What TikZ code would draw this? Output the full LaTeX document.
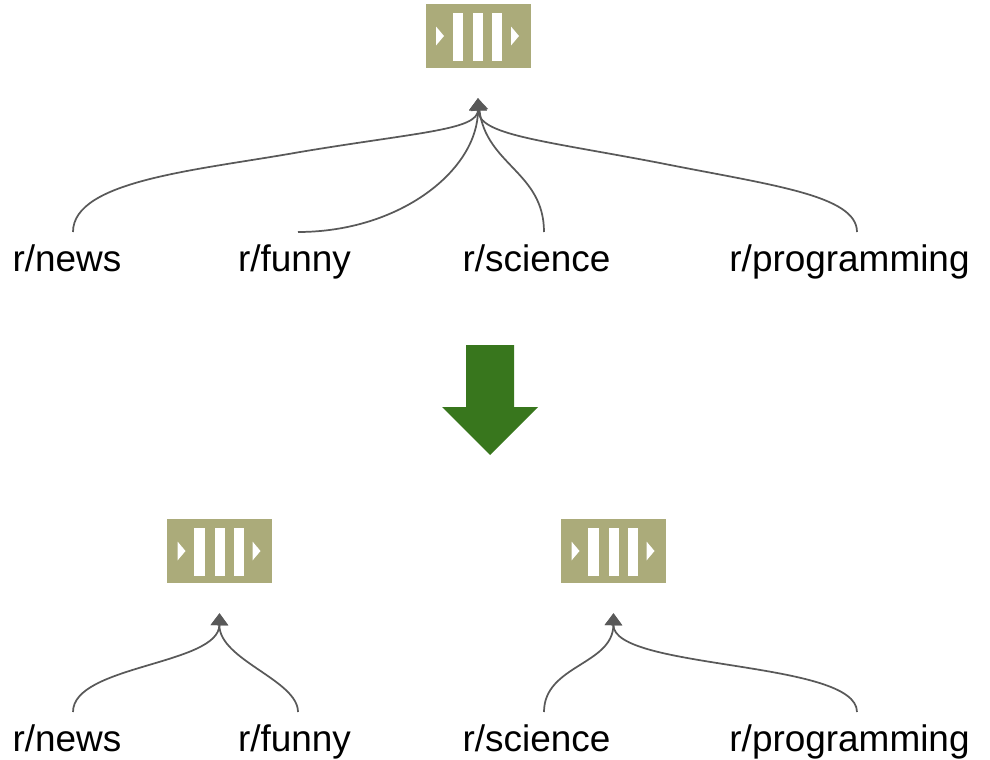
\documentclass[tikz,border=0pt]{standalone}
\usepackage{fontspec}
\setmainfont{Liberation Sans}
\usetikzlibrary{positioning,arrows.meta,calc}
\definecolor{queueolive}{HTML}{ABAB7A}
\definecolor{linegrey}{HTML}{595959}
\definecolor{arrowgreen}{HTML}{38761D}
\begin{document}
\begin{tikzpicture}[
                x=0.75pt, y=-0.75pt,
                queuenode/.style={rectangle, fill=queueolive, minimum width=78.75pt, minimum height=48pt, inner sep=0pt},
                subnode/.style={anchor=base, font=\fontsize{27.7pt}{30pt}\selectfont, inner sep=0pt},
                curveline/.style={draw=linegrey, line width=1.3pt, -{Triangle[width=13pt,length=9pt]}},
                queueicon/.pic={
                    \node[queuenode] (-box) at (0,0) {};
                    \fill[white] (-25.5,-23.5) rectangle (-15,24.5);
                    \fill[white] (-5,-23.5) rectangle (5,24.5);
                    \fill[white] (14,-23.5) rectangle (24,24.5);
                    \fill[white] (-42,-9.5) -- (-34,0) -- (-42,9.5) -- cycle;
                    \fill[white] (33,-9.5) -- (41,0) -- (33,9.5) -- cycle;
                },
            ]
            \useasboundingbox (0,0) rectangle (990,760);

            %Queues
            \pic (top)   at (478,36)  {queueicon};
            \pic (left)  at (219.5,551) {queueicon};
            \pic (right) at (613.5,551) {queueicon};
            \coordinate[below=22.5pt of top-box]   (toptip);
            \coordinate[below=22.5pt of left-box]  (lefttip);
            \coordinate[below=22.5pt of right-box] (righttip);

            %Labels
            \node[subnode] (news)        at (67,271)    {r/news};
            \node[subnode] (funny)       at (294.5,271) {r/funny};
            \node[subnode] (science)     at (536.5,271) {r/science};
            \node[subnode] (programming) at (849.5,271) {r/programming};
            \node[subnode] (lnews)        at (67,751)    {r/news};
            \node[subnode] (lfunny)       at (294.5,751) {r/funny};
            \node[subnode] (lscience)     at (536.5,751) {r/science};
            \node[subnode] (lprogramming) at (849.5,751) {r/programming};

            %Line starts
            \coordinate (newsfoot)         at (73,232);
            \coordinate (funnyfoot)        at (298,232);
            \coordinate (sciencefoot)      at (544,232);
            \coordinate (programmingfoot)  at (857,232);
            \coordinate (lnewsfoot)        at (73,712);
            \coordinate (lfunnyfoot)       at (298,712);
            \coordinate (lsciencefoot)     at (544,712);
            \coordinate (lprogrammingfoot) at (857,712);

            %Lines
            \draw[curveline] (newsfoot) .. controls (73,180) and (200,170) .. (300,152) .. controls (420,132) and (478,130) .. (toptip);
            \draw[curveline] (funnyfoot) .. controls (400,232) and (478,170) .. (toptip);
            \draw[curveline] (sciencefoot) .. controls (544,172) and (486,165) .. (toptip);
            \draw[curveline] (programmingfoot) .. controls (857,195) and (770,185) .. (660,163) .. controls (540,140) and (478,135) .. (toptip);
            \draw[curveline] (lnewsfoot) .. controls (73,665) and (219,665) .. (lefttip);
            \draw[curveline] (lfunnyfoot) .. controls (298,680) and (219,660) .. (lefttip);
            \draw[curveline] (lsciencefoot) .. controls (544,665) and (613,665) .. (righttip);
            \draw[curveline] (lprogrammingfoot) .. controls (857,660) and (613,670) .. (righttip);

            %Big arrow
            \fill[arrowgreen] (466,345) -- (514,345) -- (514,407) -- (538,407) -- (490,455) -- (442,407) -- (466,407) -- cycle;
        \end{tikzpicture}
\end{document}
